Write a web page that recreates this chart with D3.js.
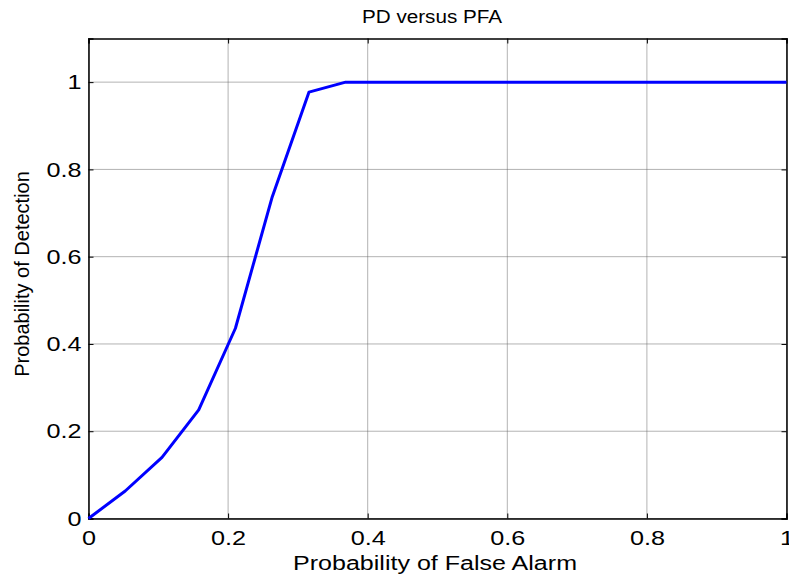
<!DOCTYPE html>
<html>
<head>
<meta charset="utf-8">
<script src="https://cdn.jsdelivr.net/npm/d3@7"></script>
<style>
  body { margin: 0; background: #fff; }
  text { font-family: Arial, "Liberation Sans", sans-serif; fill: #000; }
</style>
</head>
<body>
<div id="chart"></div>
<script>
/* DATA */
const pfa = [0, 0.0526, 0.1053, 0.1579, 0.2105, 0.2632, 0.3158, 0.3684, 0.4211, 0.4737,
  0.5263, 0.5789, 0.6316, 0.6842, 0.7368, 0.7895, 0.8421, 0.8947, 0.9474, 1];
const pd = [0, 0.063, 0.14, 0.249, 0.436, 0.737, 0.977, 1, 1, 1,
  1, 1, 1, 1, 1, 1, 1, 1, 1, 1];
const xTicks = [0, 0.2, 0.4, 0.6, 0.8, 1];
const yTicks = [0, 0.2, 0.4, 0.6, 0.8, 1];

/* CONSTANTS */
const width = 789,
  height = 582,
  margin = { top: 38.5, right: 2.5, bottom: 63.5, left: 88.5 },
  stretch = 1.2; // matlab's helvetica comes out wider than arial

const svg = d3.select("#chart")
  .append("svg")
  .attr("width", width)
  .attr("height", height);

const xScale = d3.scaleLinear()
  .domain([0, 1])
  .range([margin.left, width - margin.right]);

const yScale = d3.scaleLinear()
  .domain([0, 1.1])
  .range([height - margin.bottom, margin.top]);

// grid lines (dotted, matlab style)
svg.append("g")
  .selectAll("line.vgrid")
  .data(xTicks)
  .join("line")
  .attr("class", "vgrid")
  .attr("x1", d => xScale(d)).attr("x2", d => xScale(d))
  .attr("y1", yScale(1.1)).attr("y2", yScale(0))
  .attr("stroke", "#666")
  .attr("stroke-dasharray", "1,1")
  .attr("stroke-width", 1);

svg.append("g")
  .selectAll("line.hgrid")
  .data(yTicks)
  .join("line")
  .attr("class", "hgrid")
  .attr("y1", d => yScale(d)).attr("y2", d => yScale(d))
  .attr("x1", xScale(0)).attr("x2", xScale(1))
  .attr("stroke", "#666")
  .attr("stroke-dasharray", "1,1")
  .attr("stroke-width", 1);

// axes with inward ticks
const xAxis = d3.axisBottom(xScale).tickValues(xTicks).tickSize(-5).tickPadding(12)
  .tickFormat(d3.format("~g"));
const yAxis = d3.axisLeft(yScale).tickValues(yTicks).tickSize(-5).tickPadding(7)
  .tickFormat(d3.format("~g"));

const gx = svg.append("g")
  .attr("transform", `translate(0,${yScale(0)})`)
  .call(xAxis);
const gy = svg.append("g")
  .attr("transform", `translate(${xScale(0)},0)`)
  .call(yAxis);

// top and right ticks (no labels)
const gxTop = svg.append("g")
  .attr("transform", `translate(0,${yScale(1.1)})`)
  .call(d3.axisTop(xScale).tickValues(xTicks).tickSize(-5).tickFormat(""));
const gyRight = svg.append("g")
  .attr("transform", `translate(${xScale(1)},0)`)
  .call(d3.axisRight(yScale).tickValues(yTicks).tickSize(-5).tickFormat(""));

[gx, gy, gxTop, gyRight].forEach(g => {
  g.select(".domain").attr("stroke", "#000").attr("stroke-width", 1.5);
  g.selectAll(".tick line").attr("stroke", "#000");
  g.selectAll(".tick text")
    .attr("font-size", 21)
    .attr("font-family", "Arial, 'Liberation Sans', sans-serif");
});

// widen the tick labels a bit
[gx, gy].forEach(g => {
  g.selectAll(".tick text").each(function() {
    const len = this.getComputedTextLength();
    if (len > 0) {
      d3.select(this)
        .attr("textLength", len * stretch)
        .attr("lengthAdjust", "spacingAndGlyphs");
    }
  });
});

// the curve
const lineFunc = d3.line()
  .x((d, i) => xScale(pfa[i]))
  .y(d => yScale(d));

svg.append("path")
  .datum(pd)
  .attr("fill", "none")
  .attr("stroke", "#0000ff")
  .attr("stroke-width", 3)
  .attr("stroke-linejoin", "round")
  .attr("d", lineFunc);

// labels
svg.append("text")
  .attr("x", 432)
  .attr("y", 23)
  .attr("text-anchor", "middle")
  .attr("font-size", 18)
  .attr("textLength", 140)
  .attr("lengthAdjust", "spacingAndGlyphs")
  .text("PD versus PFA");

svg.append("text")
  .attr("x", 435)
  .attr("y", 570)
  .attr("text-anchor", "middle")
  .attr("font-size", 20)
  .attr("textLength", 284)
  .attr("lengthAdjust", "spacingAndGlyphs")
  .text("Probability of False Alarm");

svg.append("text")
  .attr("transform", `translate(29,274) rotate(-90)`)
  .attr("text-anchor", "middle")
  .attr("font-size", 20)
  .text("Probability of Detection");
</script>
</body>
</html>
